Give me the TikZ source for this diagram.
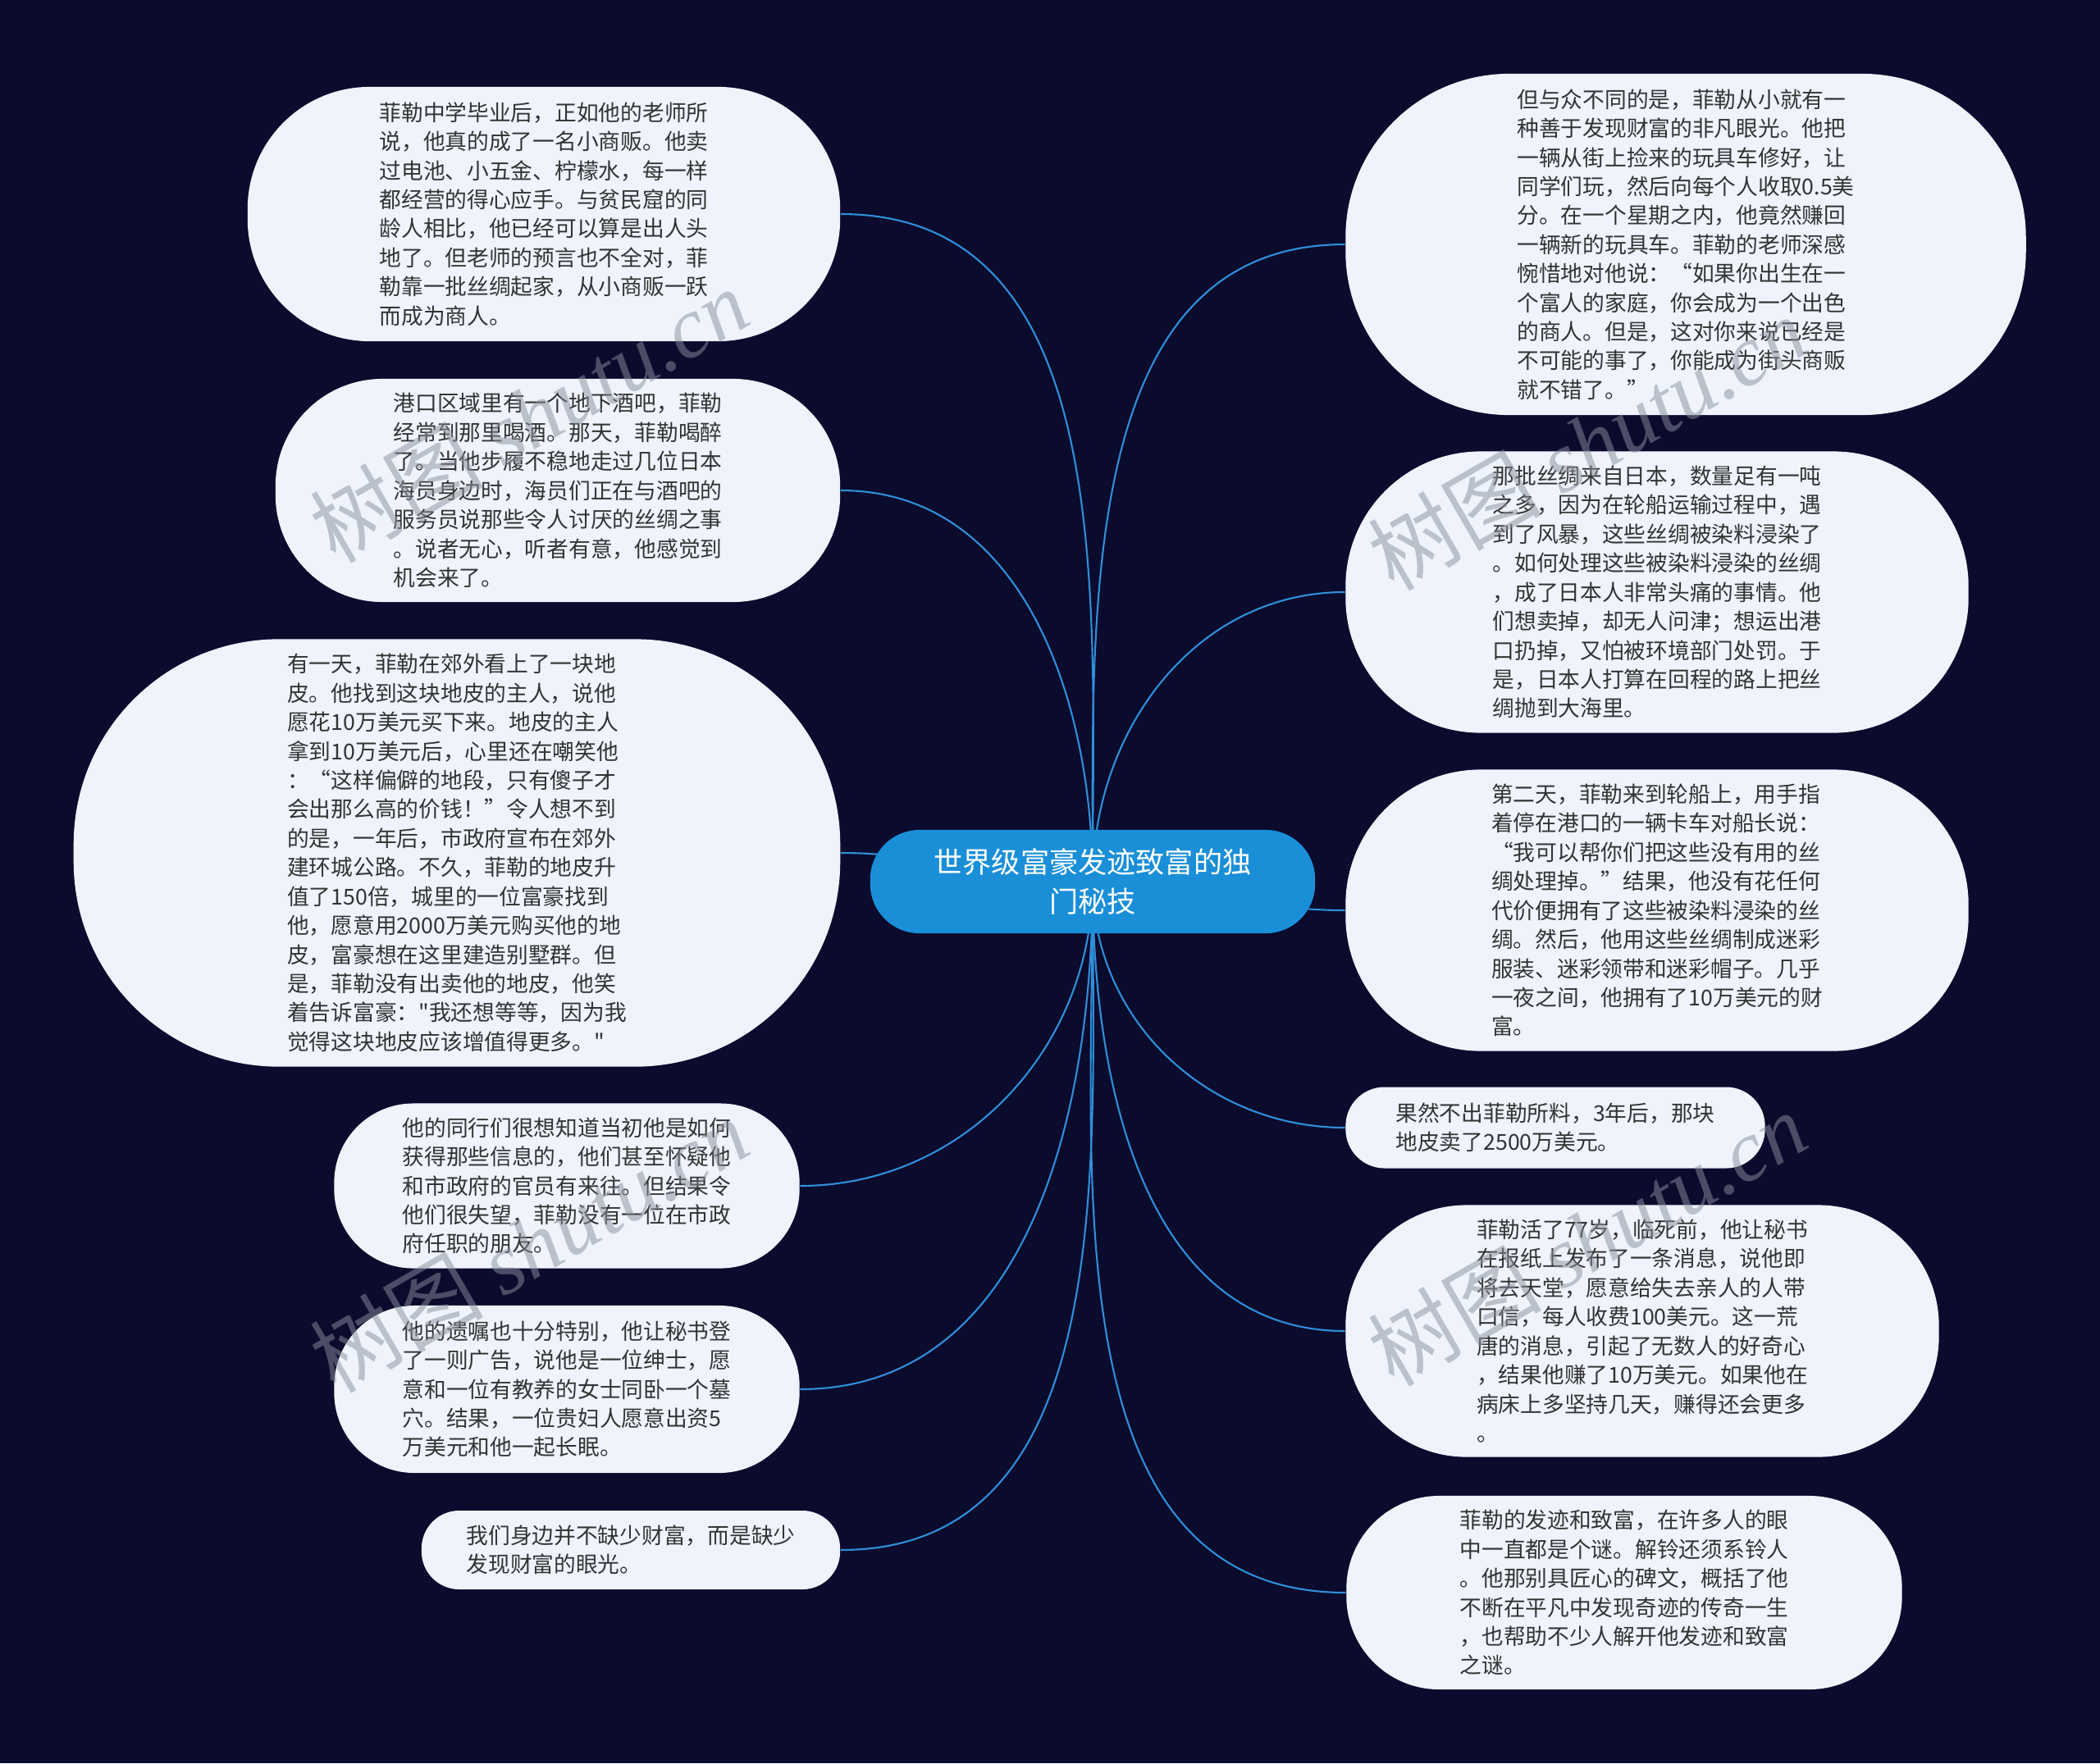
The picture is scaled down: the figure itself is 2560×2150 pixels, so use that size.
\documentclass[tikz,border=0pt]{standalone}
\usepackage{fontspec}
\newfontfamily\cjk{Noto Sans CJK SC}
\newfontfamily\wmlatin{Liberation Serif}
\usetikzlibrary{backgrounds}
\definecolor{bgnavy}{HTML}{0B0B2E}
\definecolor{leaffill}{HTML}{EEF3FC}
\definecolor{leaftext}{HTML}{333333}
\definecolor{topicfill}{HTML}{1A8FD8}
\definecolor{linkblue}{HTML}{2F8FD8}
\definecolor{wmgray}{HTML}{8A909C}

\begin{document}
\begin{tikzpicture}[
    x=0.01cm, y=-0.01cm,
    leaf/.style 2 args={
        rectangle, fill=leaffill, inner sep=0pt,
        minimum width=#1cm, minimum height=#2cm,
        rounded corners={#2cm*0.48},
        align=left, text=leaftext,
        font=\cjk\fontsize{7.6}{10.07}\selectfont
    },
    topic/.style={
        rectangle, fill=topicfill, rounded corners=0.6cm,
        minimum width=5.42cm, minimum height=1.26cm,
        align=center, text=white,
        font=\cjk\fontsize{10}{13.4}\selectfont
    },
    link/.style={draw=linkblue, line width=0.6pt},
    wmark/.style={rotate=30, text=wmgray, text opacity=0.5,
        font=\cjk\fontsize{30}{30}\selectfont},
]

% Central topic
\node[topic] (topic) at (1332,1075) {世界级富豪发迹致富的独\\门秘技};

% Left branch
\node[leaf={7.22}{3.10}] (n1) at (663,261) {菲勒中学毕业后，正如他的老师所\\说，他真的成了一名小商贩。他卖\\过电池、小五金、柠檬水，每一样\\都经营的得心应手。与贫民窟的同\\龄人相比，他已经可以算是出人头\\地了。但老师的预言也不全对，菲\\勒靠一批丝绸起家，从小商贩一跃\\而成为商人。};
\node[leaf={6.88}{2.72}] (n2) at (680,598) {港口区域里有一个地下酒吧，菲勒\\经常到那里喝酒。那天，菲勒喝醉\\了。当他步履不稳地走过几位日本\\海员身边时，海员们正在与酒吧的\\服务员说那些令人讨厌的丝绸之事\\。说者无心，听者有意，他感觉到\\机会来了。};
\node[leaf={9.34}{5.21}] (n3) at (557,1040) {有一天，菲勒在郊外看上了一块地\\皮。他找到这块地皮的主人，说他\\愿花10万美元买下来。地皮的主人\\拿到10万美元后，心里还在嘲笑他\\：“这样偏僻的地段，只有傻子才\\会出那么高的价钱！”令人想不到\\的是，一年后，市政府宣布在郊外\\建环城公路。不久，菲勒的地皮升\\值了150倍，城里的一位富豪找到\\他，愿意用2000万美元购买他的地\\皮，富豪想在这里建造别墅群。但\\是，菲勒没有出卖他的地皮，他笑\\着告诉富豪："我还想等等，因为我\\觉得这块地皮应该增值得更多。"};
\node[leaf={5.67}{2.01}] (n4) at (691,1446) {他的同行们很想知道当初他是如何\\获得那些信息的，他们甚至怀疑他\\和市政府的官员有来往。但结果令\\他们很失望，菲勒没有一位在市政\\府任职的朋友。};
\node[leaf={5.67}{2.04}] (n5) at (691,1694) {他的遗嘱也十分特别，他让秘书登\\了一则广告，说他是一位绅士，愿\\意和一位有教养的女士同卧一个墓\\穴。结果，一位贵妇人愿意出资5\\万美元和他一起长眠。};
\node[leaf={5.10}{0.96}] (n6) at (769,1890) {我们身边并不缺少财富，而是缺少\\发现财富的眼光。};

% Right branch
\node[leaf={8.29}{4.16}] (n7) at (2055,298) {但与众不同的是，菲勒从小就有一\\种善于发现财富的非凡眼光。他把\\一辆从街上捡来的玩具车修好，让\\同学们玩，然后向每个人收取0.5美\\分。在一个星期之内，他竟然赚回\\一辆新的玩具车。菲勒的老师深感\\惋惜地对他说：“如果你出生在一\\个富人的家庭，你会成为一个出色\\的商人。但是，这对你来说已经是\\不可能的事了，你能成为街头商贩\\就不错了。”};
\node[leaf={7.59}{3.43}] (n8) at (2020,722) {那批丝绸来自日本，数量足有一吨\\之多，因为在轮船运输过程中，遇\\到了风暴，这些丝绸被染料浸染了\\。如何处理这些被染料浸染的丝绸\\，成了日本人非常头痛的事情。他\\们想卖掉，却无人问津；想运出港\\口扔掉，又怕被环境部门处罚。于\\是，日本人打算在回程的路上把丝\\绸抛到大海里。};
\node[leaf={7.59}{3.43}] (n9) at (2020,1110) {第二天，菲勒来到轮船上，用手指\\着停在港口的一辆卡车对船长说：\\“我可以帮你们把这些没有用的丝\\绸处理掉。”结果，他没有花任何\\代价便拥有了这些被染料浸染的丝\\绸。然后，他用这些丝绸制成迷彩\\服装、迷彩领带和迷彩帽子。几乎\\一夜之间，他拥有了10万美元的财\\富。};
\node[leaf={5.11}{0.99}] (n10) at (1896,1375) {果然不出菲勒所料，3年后，那块\\地皮卖了2500万美元。};
\node[leaf={7.23}{3.07}] (n11) at (2002,1623) {菲勒活了77岁，临死前，他让秘书\\在报纸上发布了一条消息，说他即\\将去天堂，愿意给失去亲人的人带\\口信，每人收费100美元。这一荒\\唐的消息，引起了无数人的好奇心\\，结果他赚了10万美元。如果他在\\病床上多坚持几天，赚得还会更多\\。};
\node[leaf={6.77}{2.36}] (n12) at (1980,1942) {菲勒的发迹和致富，在许多人的眼\\中一直都是个谜。解铃还须系铃人\\。他那别具匠心的碑文，概括了他\\不断在平凡中发现奇迹的传奇一生\\，也帮助不少人解开他发迹和致富\\之谜。};

% Background and curved links
\begin{pgfonlayer}{background}
\fill[bgnavy] (0,0) rectangle (2560,2150);
\draw[link] (topic.center) to[out=90,in=0] (n1.east);
\draw[link] (topic.center) to[out=90,in=0] (n2.east);
\draw[link] (topic.center) to[out=180,in=0] (n3.east);
\draw[link] (topic.center) to[out=-90,in=0] (n4.east);
\draw[link] (topic.center) to[out=-90,in=0] (n5.east);
\draw[link] (topic.center) to[out=-90,in=0] (n6.east);
\draw[link] (topic.center) to[out=90,in=180] (n7.west);
\draw[link] (topic.center) to[out=90,in=180] (n8.west);
\draw[link] (topic.center) to[out=0,in=180] (n9.west);
\draw[link] (topic.center) to[out=-90,in=180] (n10.west);
\draw[link] (topic.center) to[out=-90,in=180] (n11.west);
\draw[link] (topic.center) to[out=-90,in=180] (n12.west);
\end{pgfonlayer}

% Watermarks
\foreach \wx/\wy [count=\i] in {645/506, 1935/540, 645/1518, 1935/1510}
    \node[wmark] (wm\i) at (\wx,\wy) {树图 {\wmlatin\itshape shutu.cn}};

\end{tikzpicture}
\end{document}
